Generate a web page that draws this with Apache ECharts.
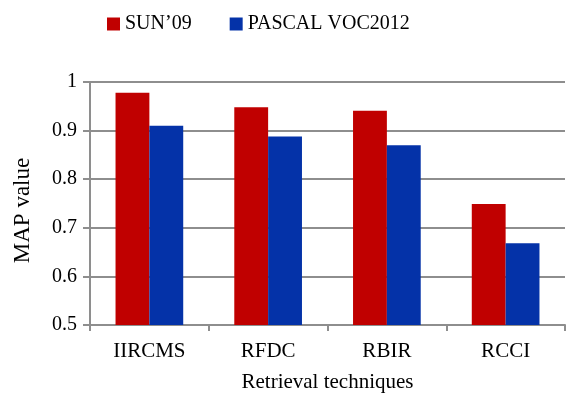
<!DOCTYPE html>
<html>
<head>
<meta charset="utf-8">
<script src="https://cdn.jsdelivr.net/npm/echarts@6/dist/echarts.min.js"></script>
<style>
html, body { margin: 0; padding: 0; background: #fff; }
#chart { width: 567px; height: 398px; }
</style>
</head>
<body>
<div id="chart"></div>
<script>
// Mean average precision of each retrieval technique on two datasets
const techniques = ['IIRCMS', 'RFDC', 'RBIR', 'RCCI'];
const sun09 = [0.978, 0.948, 0.941, 0.749];
const pascalVoc2012 = [0.910, 0.888, 0.870, 0.668];
const seriesNames = ['SUN\u201909', 'PASCAL VOC2012'];

const font = 'Liberation Serif, Times New Roman, serif';
const gridGray = '#8e8e8e';

const chart = echarts.init(document.getElementById('chart'), null, { renderer: 'canvas' });
chart.setOption({
  animation: false,
  textStyle: { fontFamily: font, color: '#000' },
  legend: {
    top: 9,
    left: 102,
    itemWidth: 13,
    itemHeight: 13,
    itemGap: 38,
    icon: 'rect',
    textStyle: { fontFamily: font, fontSize: 20, color: '#000' },
    data: seriesNames
  },
  grid: { left: 90, right: 2, top: 82, bottom: 72, containLabel: false },
  xAxis: {
    type: 'category',
    data: techniques,
    name: 'Retrieval techniques',
    nameLocation: 'middle',
    nameGap: 47,
    nameTextStyle: { fontFamily: font, fontSize: 21, color: '#000' },
    axisLine: { lineStyle: { color: gridGray, width: 2 } },
    axisTick: { show: true, length: 6, lineStyle: { color: gridGray, width: 2 } },
    axisLabel: { fontFamily: font, fontSize: 21, color: '#000', margin: 16 }
  },
  yAxis: {
    type: 'value',
    min: 0.5,
    max: 1,
    interval: 0.1,
    name: 'MAP value',
    nameLocation: 'middle',
    nameGap: 56,
    nameTextStyle: { fontFamily: font, fontSize: 23, color: '#000', padding: [0, 14, 0, 0] },
    axisLine: { show: true, lineStyle: { color: gridGray, width: 2 } },
    axisTick: { show: true, length: 7, lineStyle: { color: gridGray, width: 2 } },
    axisLabel: {
      fontFamily: font, fontSize: 20, color: '#000', margin: 13,
      formatter: v => (Math.round(v * 10) / 10).toString()
    },
    splitLine: { show: true, lineStyle: { color: gridGray, width: 2 } }
  },
  series: [
    {
      name: seriesNames[0],
      type: 'bar',
      data: sun09,
      barGap: '0%',
      barCategoryGap: '43%',
      itemStyle: { color: '#c00000' }
    },
    {
      name: seriesNames[1],
      type: 'bar',
      data: pascalVoc2012,
      itemStyle: { color: '#0432a8' }
    }
  ]
});
</script>
</body>
</html>
